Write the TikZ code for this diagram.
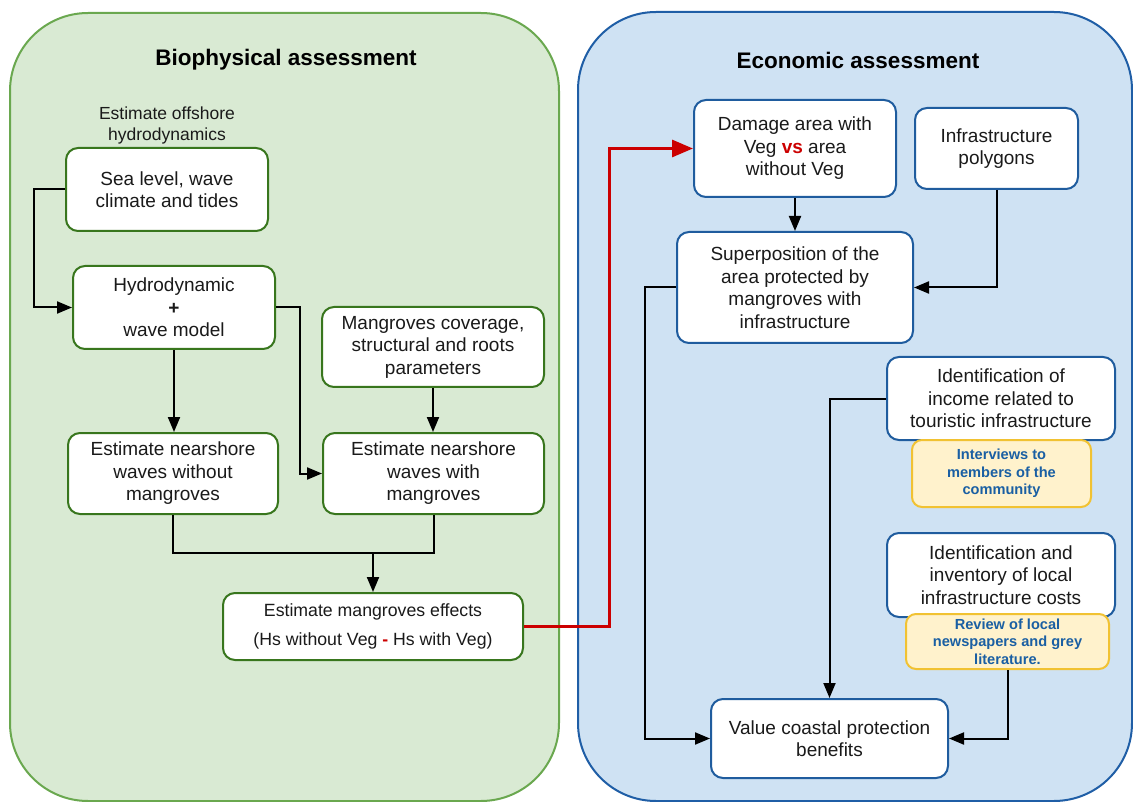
\documentclass[tikz,border=0pt]{standalone}
\usepackage{fontspec}
\setmainfont{Liberation Sans}
\usetikzlibrary{arrows.meta,calc}

\definecolor{bioFill}{HTML}{D9EAD3}
\definecolor{bioLine}{HTML}{6AA84F}
\definecolor{bioNode}{HTML}{38761D}
\definecolor{ecoFill}{HTML}{CFE2F3}
\definecolor{ecoLine}{HTML}{1F5EA6}
\definecolor{ecoNode}{HTML}{1F5C9E}
\definecolor{noteFill}{HTML}{FFF2CC}
\definecolor{noteLine}{HTML}{F1C232}
\definecolor{noteText}{HTML}{1A5FA3}
\definecolor{flowRed}{HTML}{CC0000}
\definecolor{txt}{HTML}{1A1A1A}

\tikzset{
  panel/.style={line width=2pt, rounded corners=78pt},
  basebox/.style={rectangle, rounded corners=12pt, line width=2pt, fill=white,
    align=center, text=txt, inner sep=2pt,
    font=\fontsize{19}{22.5}\selectfont},
  biobox/.style={basebox, draw=bioNode},
  ecobox/.style={basebox, draw=ecoNode},
  notebox/.style={rectangle, rounded corners=10pt, line width=2pt, fill=noteFill,
    draw=noteLine, align=center, text=noteText, inner sep=2pt,
    font=\fontsize{14.6}{17.3}\selectfont\bfseries},
  title/.style={font=\fontsize{22.5}{27}\selectfont\bfseries, text=black},
  link/.style={line width=2pt, draw=black,
    -{Triangle[length=15pt,width=12pt]}},
  plain/.style={line width=2pt, draw=black},
  redlink/.style={line width=3pt, draw=flowRed,
    -{Triangle[length=21pt,width=17pt]}},
}

\begin{document}
\begin{tikzpicture}[x=1pt,y=-1pt]
\useasboundingbox (0,0) rectangle (1133,802);

% assessment panels
\path[panel, fill=bioFill, draw=bioLine] (10,13) rectangle (559,801);
\path[panel, fill=ecoFill, draw=ecoLine] (578,12) rectangle (1132,801);

\node[title] (biotitle) at (286,60) {Biophysical assessment};
\node[title] (ecotitle) at (858,60) {Economic assessment};

% biophysical chain
\node[font=\fontsize{17.5}{21}\selectfont, align=center, text=txt] (offshore) at (167,125)
  {Estimate offshore\\hydrodynamics};
\node[biobox, minimum width=202pt, minimum height=83pt] (sea) at (167,189.5)
  {Sea level, wave\\climate and tides};
\node[biobox, minimum width=202pt, minimum height=83pt] (hydro) at (174,307.5)
  {Hydrodynamic\\\textbf{+}\\wave model};
\node[biobox, minimum width=222pt, minimum height=80pt] (cov) at (433,347)
  {Mangroves coverage,\\structural and roots\\parameters};
\node[biobox, minimum width=210pt, minimum height=81pt] (nwo) at (173,473.5)
  {Estimate nearshore\\waves without\\mangroves};
\node[biobox, minimum width=221pt, minimum height=81pt] (nw) at (433.5,473.5)
  {Estimate nearshore\\waves with\\mangroves};
\node[biobox, minimum width=300pt, minimum height=67pt,
      font=\fontsize{17.7}{21}\selectfont] (eff) at (373,626.5)
  {Estimate mangroves effects\\[8pt](Hs without Veg {\color{flowRed}\textbf{-}} Hs with Veg)};

% economic chain
\node[ecobox, minimum width=202pt, minimum height=97pt] (dmg) at (795,148.5)
  {Damage area with\\Veg {\color{flowRed}\textbf{vs}} area\\without Veg};
\node[ecobox, minimum width=163pt, minimum height=81pt] (poly) at (996.5,148.5)
  {Infrastructure\\polygons};
\node[ecobox, minimum width=236pt, minimum height=111pt] (sup) at (795,287.5)
  {Superposition of the\\area protected by\\mangroves with\\infrastructure};
\node[ecobox, minimum width=228pt, minimum height=83pt] (inc) at (1001,398.5)
  {Identification of\\income related to\\touristic infrastructure};
\node[ecobox, minimum width=228pt, minimum height=84pt] (cost) at (1001,575)
  {Identification and\\inventory of local\\infrastructure costs};
\node[ecobox, minimum width=237pt, minimum height=79pt] (val) at (829.5,738.5)
  {Value coastal protection\\benefits};
\node[notebox, minimum width=179pt, minimum height=67pt] (intv) at (1001.5,473.5)
  {Interviews to\\members of the\\community};
\node[notebox, minimum width=203pt, minimum height=55pt] (rev) at (1007.5,641.5)
  {Review of local\\newspapers and grey\\literature.};

% biophysical connectors
\draw[link] (sea.west) -- ++(-31,0) |- (hydro.west);
\draw[link] (hydro.south) -- (hydro.south |- nwo.north);
\draw[link] (hydro.east) -- ++(24,0) |- (nw.west);
\draw[link] (cov.south) -- (cov.south |- nw.north);
\coordinate (join) at ($(eff.north)+(0,-39)$);
\draw[plain] (nwo.south) |- (join);
\draw[plain] (nw.south) |- (join);
\draw[link] (join) -- (eff.north);

% link between the two assessments
\draw[redlink] (eff.east) -- ++(85,0) |- (dmg.west);

% economic connectors
\draw[link] (dmg.south) -- (dmg.south |- sup.north);
\draw[link] (poly.south) |- (sup.east);
\draw[link] (sup.west) -- ++(-31,0) |- (val.west);
\draw[link] (inc.west) -| (val.north);
\draw[link] (rev.south) |- (val.east);
\end{tikzpicture}
\end{document}
